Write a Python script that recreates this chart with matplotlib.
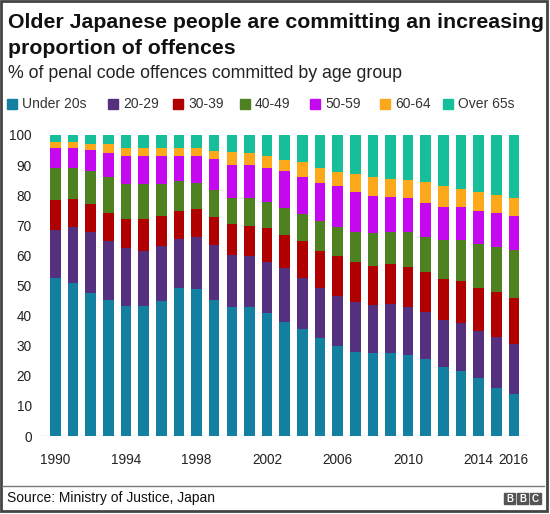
import matplotlib
matplotlib.use("Agg")
import matplotlib.pyplot as plt
from matplotlib.patches import Rectangle
import numpy as np

plt.rcParams['font.family'] = ['Liberation Sans', 'DejaVu Sans']

years = list(range(1990, 2017))
groups = ["Under 20s", "20-29", "30-39", "40-49", "50-59", "60-64", "Over 65s"]
colors = ["#1380A1", "#55307F", "#B00000", "#4E8220", "#C409F0", "#FBA81A", "#16BF99"]

under20 = [52.4, 50.7, 47.4, 45.2, 43.3, 43.3, 44.9, 49.1, 48.7, 45.2, 42.7, 43.0, 41.0, 38.0,
           35.4, 32.7, 29.9, 28.0, 27.7, 27.7, 26.9, 25.6, 22.8, 21.7, 19.2, 16.1, 14.0]
age20_29 = [16.0, 18.6, 20.5, 19.7, 19.0, 18.2, 18.3, 16.3, 17.5, 18.3, 17.4, 16.9, 16.7, 17.7,
            17.2, 16.6, 16.7, 16.6, 15.8, 16.2, 15.8, 15.7, 15.7, 15.7, 15.7, 16.9, 16.6]
age30_39 = [10.0, 9.3, 9.2, 9.1, 9.8, 10.5, 10.0, 9.5, 9.1, 9.4, 10.2, 9.9, 11.3, 11.1,
            12.3, 12.3, 13.3, 13.1, 13.1, 13.2, 13.6, 13.1, 13.7, 14.1, 14.2, 15.0, 15.1]
age40_49 = [10.5, 10.3, 10.9, 12.2, 11.6, 11.7, 10.5, 9.9, 8.9, 8.8, 8.7, 9.2, 8.9, 8.8,
            8.7, 9.8, 9.6, 10.2, 10.7, 10.8, 11.6, 11.8, 12.9, 13.6, 14.7, 14.7, 16.1]
age50_59 = [6.9, 6.9, 7.0, 7.7, 9.3, 9.3, 9.3, 8.2, 8.8, 10.2, 11.0, 11.0, 11.2, 12.4,
            12.3, 12.5, 13.7, 13.1, 12.5, 11.6, 11.1, 11.1, 11.1, 11.1, 11.1, 11.3, 11.3]
age60_64 = [2.0, 2.0, 2.0, 3.1, 2.6, 2.6, 2.6, 2.6, 2.6, 2.9, 4.2, 3.9, 3.9, 3.7,
            5.0, 5.0, 4.6, 6.0, 6.1, 5.9, 6.0, 7.0, 7.0, 5.9, 6.3, 6.1, 5.9]
over65 = [2.2, 2.2, 3.0, 3.0, 4.4, 4.4, 4.4, 4.4, 4.4, 5.2, 5.8, 6.1, 7.0, 8.3,
          9.1, 11.1, 12.2, 13.0, 14.1, 14.6, 15.0, 15.7, 16.8, 17.9, 18.8, 19.9, 21.0]
series = [under20, age20_29, age30_39, age40_49, age50_59, age60_64, over65]

xtick_labels = [1990, 1994, 1998, 2002, 2006, 2010, 2014, 2016]
ytick_values = list(range(0, 101, 10))

W, H = 550, 514
fig = plt.figure(figsize=(W / 100, H / 100), dpi=100)
fig.patch.set_facecolor("white")

def fx(px):
    return px / W

def fy(py):
    return 1 - py / H

# axes: x pixels 40..528, y pixels 436 (0) .. 135 (100)
ax = fig.add_axes([fx(40), fy(436), fx(528) - fx(40), fy(135) - fy(436)])
bottom = np.zeros(len(years))
for vals, col, name in zip(series, colors, groups):
    ax.bar(years, vals, bottom=bottom, width=0.6, color=col, label=name, linewidth=0)
    bottom += np.array(vals)

ax.set_xlim(1990 - 0.88, 2016 + 0.8)
ax.set_ylim(0, 100)
ax.set_yticks(ytick_values)
ax.set_xticks(xtick_labels)
ax.set_xticklabels([str(v) for v in xtick_labels])
ax.tick_params(axis='both', length=0, labelsize=9.8, colors="#222222")
ax.tick_params(axis='x', pad=12)
ax.tick_params(axis='y', pad=6)
for s in ax.spines.values():
    s.set_visible(False)
ax.axhline(0, color="#cccccc", lw=1, zorder=0)

# Titles
fig.text(fx(8), fy(22), "Older Japanese people are committing an increasing",
         fontsize=15.3, fontweight="bold", va="center", ha="left", color="#111111")
fig.text(fx(8), fy(48), "proportion of offences",
         fontsize=15.3, fontweight="bold", va="center", ha="left", color="#111111")
fig.text(fx(8), fy(74), "% of penal code offences committed by age group",
         fontsize=12.8, va="center", ha="left", color="#222222")

# Legend
sq_left = [7, 108, 173, 240, 310, 380, 443]
for xl, col, name in zip(sq_left, colors, groups):
    fig.patches.append(Rectangle((fx(xl), fy(109)), fx(10), 10 / H, color=col,
                                 transform=fig.transFigure, figure=fig))
    fig.text(fx(xl + 15), fy(104), name, fontsize=10, va="center", ha="left", color="#333333")

# Footer
fig.add_artist(plt.Line2D([fx(2), fx(544)], [fy(486), fy(486)], color="#777777", lw=1,
                          transform=fig.transFigure))
fig.text(fx(7), fy(498), "Source: Ministry of Justice, Japan", fontsize=10,
         va="center", ha="left", color="#111111")
for i, letter in enumerate("BBC"):
    x0 = 504 + i * 13
    fig.patches.append(Rectangle((fx(x0), fy(504)), fx(11), 11 / H, color="#555555",
                                 transform=fig.transFigure, figure=fig))
    fig.text(fx(x0 + 5.5), fy(498.5), letter, fontsize=7, fontweight="bold",
             color="white", ha="center", va="center")

# Outer frame
fig.patches.append(Rectangle((fx(1), fy(511)), fx(546), 510 / H, fill=False,
                             edgecolor="#444444", lw=2, transform=fig.transFigure, figure=fig))

fig.savefig("out.png", dpi=100, facecolor="white")
